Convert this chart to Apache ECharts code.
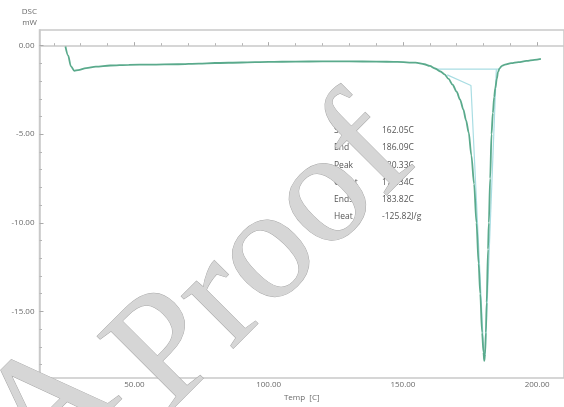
<!DOCTYPE html>
<html>
<head>
<meta charset="utf-8">
<script src="https://cdn.jsdelivr.net/npm/echarts@6/dist/echarts.min.js"></script>
<style>
html,body{margin:0;padding:0;background:#fff;}
#chart{width:564px;height:407px;}
</style>
</head>
<body>
<div id="chart"></div>
<script>
// Temperature (C) / heat flow (mW) of the DSC curve
var curveT = [24.3, 25.3, 26.3, 27.6, 29.0, 32.0, 35.6, 41.0, 47.9, 56.0, 66.3, 74.0, 80.0, 90.0, 100.0, 110.0, 120.0, 130.0, 140.0, 148.0, 154.7, 158.0, 160.0, 162.0, 164.0, 165.5, 167.0, 168.5, 170.0, 171.3, 172.5, 173.5, 174.5, 175.5, 176.5, 177.4, 178.2, 178.8, 179.5, 180.0, 180.3, 180.6, 180.9, 181.2, 181.7, 182.0, 182.5, 183.0, 183.5, 184.0, 184.4, 185.0, 185.4, 186.0, 186.9, 188.0, 190.3, 193.0, 196.0, 199.0, 201.4];
var curveV = [-0.05, -0.55, -1.15, -1.42, -1.38, -1.27, -1.18, -1.12, -1.08, -1.07, -1.05, -1.01, -0.98, -0.95, -0.92, -0.9, -0.89, -0.89, -0.9, -0.92, -0.96, -1.05, -1.14, -1.29, -1.46, -1.62, -1.88, -2.2, -2.6, -3.05, -3.6, -4.2, -4.9, -6.2, -7.8, -10.0, -12.3, -14.0, -16.2, -17.3, -17.8, -17.4, -16.2, -14.5, -11.5, -10.0, -7.5, -5.0, -3.8, -2.9, -2.4, -1.85, -1.5, -1.28, -1.14, -1.07, -0.99, -0.93, -0.86, -0.8, -0.75];
// construction lines (baseline, onset tangent, endset tangent)
var baseT = [162.05, 186.09];
var baseV = [-1.32, -1.32];
var onsetT = [166.5, 175.34, 175.34, 180.2];
var onsetV = [-1.65, -2.25, -2.25, -17.7];
var endsetT = [184.8, 180.6];
var endsetV = [-1.32, -17.5];
// x tick labels and ticks
var xMajor = [50, 100, 150, 200];
var xMinor = [20, 30, 40, 60, 70, 80, 90, 110, 120, 130, 140, 160, 170, 180, 190, 210];
var yMajor = [0, -5, -10, -15];
var yMinor = [-1, -2, -3, -4, -6, -7, -8, -9, -11, -12, -13, -14, -16, -17, -18];
// result annotation
var resLabels = ['Start', 'End', 'Peak', 'Onset', 'Endset', 'Heat'];
var resValues = ['162.05C', '186.09C', '180.33C', '175.34C', '183.82C', '-125.82J/g'];

function pairs(a, b) { return a.map(function (v, i) { return [v, b[i]]; }); }

var chart = echarts.init(document.getElementById('chart'));
var XMIN = 14.64, XMAX = 210, YMIN = -18.77, YMAX = 0.884;
var font = 'Open Sans';
var axisCol = '#c9c9c9';
var labelCol = '#6a6a6a';

var graphics = [
  {type: 'text', right: 527, top: 8, style: {text: 'DSC', font: '8px "Open Sans"', fill: labelCol, textAlign: 'right'}},
  {type: 'text', right: 527, top: 19, style: {text: 'mW', font: '8px "Open Sans"', fill: labelCol, textAlign: 'right'}}
];
resLabels.forEach(function (l, i) {
  graphics.push({type: 'text', left: 334, top: 126 + i * 17.3, style: {text: l, font: '8.5px "Open Sans"', fill: '#555'}});
  graphics.push({type: 'text', left: 382, top: 126 + i * 17.3, style: {text: resValues[i], font: '8.5px "Open Sans"', fill: '#555'}});
});
var wmStyle = {font: '160px "Liberation Serif"', fill: '#d6d6d6', stroke: '#a8a8a8', lineWidth: 1, textAlign: 'center', textVerticalAlign: 'middle'};
graphics.push({type: 'text', x: 52, y: 409, rotation: Math.PI / 4, z: 100, style: Object.assign({text: 'A'}, wmStyle)});
graphics.push({type: 'text', x: 264, y: 258, rotation: Math.PI / 4, z: 100, style: Object.assign({text: 'Proof'}, wmStyle)});

chart.setOption({
  animation: false,
  backgroundColor: '#fff',
  grid: {left: 39.5, top: 30, height: 355.7, width: (XMAX - XMIN) * 2.7147, show: true, borderColor: axisCol, borderWidth: 1.5, containLabel: false},
  xAxis: [{
    type: 'value', min: XMIN, max: XMAX,
    name: 'Temp  [C]', nameLocation: 'middle', nameGap: 14,
    nameTextStyle: {fontFamily: font, fontSize: 8, color: labelCol},
    axisLine: {show: true, lineStyle: {color: axisCol, width: 1.5}},
    axisTick: {show: true, inside: true, length: 3.5, customValues: xMajor, lineStyle: {color: '#aaa'}},
    axisLabel: {customValues: xMajor, formatter: function (v) { return v.toFixed(2); }, fontFamily: font, fontSize: 8, color: labelCol, margin: 3},
    splitLine: {show: false}
  }, {
    type: 'value', min: XMIN, max: XMAX, position: 'bottom',
    axisLine: {show: false},
    axisTick: {show: true, inside: true, length: 2.5, customValues: xMinor, lineStyle: {color: '#b5b5b5'}},
    axisLabel: {show: false}, splitLine: {show: false}
  }],
  yAxis: [{
    type: 'value', min: YMIN, max: YMAX,
    axisLine: {show: true, lineStyle: {color: axisCol, width: 1.5}},
    axisTick: {show: true, inside: true, length: 4, customValues: yMajor, lineStyle: {color: '#aaa'}},
    axisLabel: {customValues: yMajor, formatter: function (v) { return v.toFixed(2); }, fontFamily: font, fontSize: 8, color: labelCol, margin: 5},
    splitLine: {show: false}
  }, {
    type: 'value', min: YMIN, max: YMAX, position: 'left',
    axisLine: {show: false},
    axisTick: {show: true, inside: true, length: 2.5, customValues: yMinor, lineStyle: {color: '#b5b5b5'}},
    axisLabel: {show: false}, splitLine: {show: false}
  }],
  graphic: graphics,
  series: [
    {type: 'line', data: pairs(baseT, baseV), symbol: 'none', lineStyle: {color: '#a9dde3', width: 1.2}},
    {type: 'line', data: pairs(onsetT, onsetV), symbol: 'none', lineStyle: {color: '#a9dde3', width: 1.2}},
    {type: 'line', data: pairs(endsetT, endsetV), symbol: 'none', lineStyle: {color: '#a9dde3', width: 1.2}},
    {type: 'line', data: pairs(curveT, curveV), symbol: 'none', smooth: 0.3, smoothMonotone: 'x', lineStyle: {color: '#5aaa8c', width: 1.8}}
  ]
});
</script>
</body>
</html>
